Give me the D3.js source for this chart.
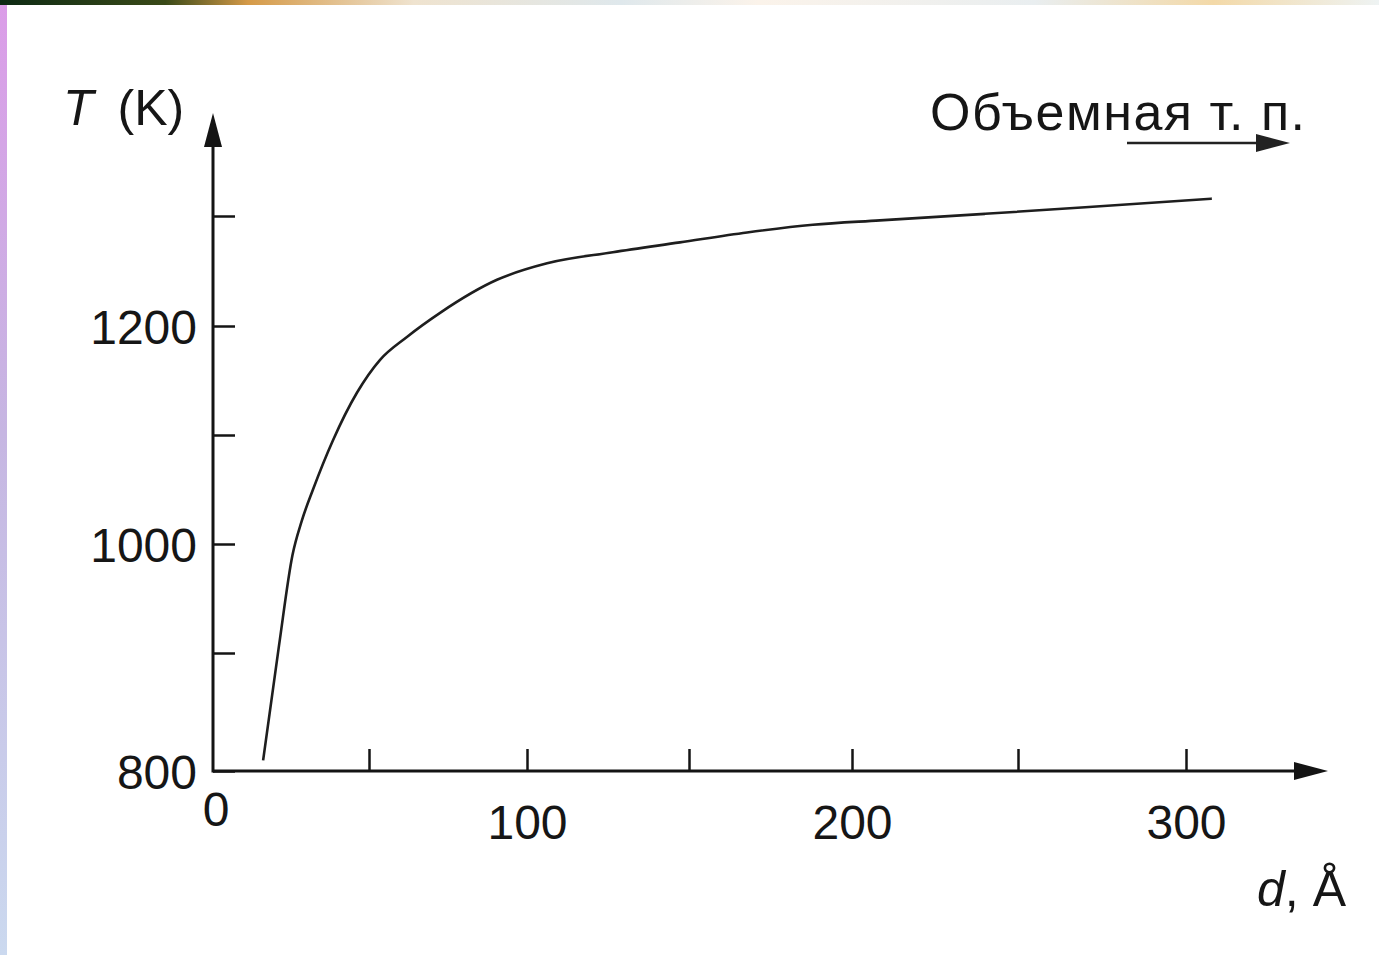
<!DOCTYPE html>
<html>
<head>
<meta charset="utf-8">
<script src="https://cdn.jsdelivr.net/npm/d3@7"></script>
<style>
  html, body { margin: 0; padding: 0; background: #fff; }
  svg text { font-family: "Liberation Sans", Arial, sans-serif; fill: #161616; }
</style>
</head>
<body>
<script>
// ---------------------- DATA ----------------------
// film thickness d (Å) and melting temperature T (K)
const dValues = [15.4, 20.6, 25.0, 28.0, 31.7, 38.2, 46.1, 53.5, 62.0, 72.5, 90.5,
                 106.2, 126.5, 147.2, 167.8, 188, 208.4, 240, 270, 308];
const tValues = [809, 907, 990, 1021, 1050, 1095, 1139, 1169, 1190, 1212, 1242,
                 1257, 1267, 1276, 1285, 1292, 1296, 1302, 1308, 1316];

const xTicks = [50, 100, 150, 200, 250, 300];
const xLabels = [100, 200, 300];
const yTicks = [800, 900, 1000, 1100, 1200, 1300];
const yLabels = [800, 1000, 1200];

const bulkLabel = "Объемная т. п.";

// ---------------------- SETUP ----------------------
const width = 1379, height = 955;
const ink = "#141414";
const labelSize = "48px";

const svg = d3.select("body").append("svg")
    .attr("width", width)
    .attr("height", height);

// scanned page edges (coloured strips on top and left)
const defs = svg.append("defs");
const topGrad = defs.append("linearGradient").attr("id", "topStrip");
[["0%", "#0d2a14"], ["12%", "#3a4a18"], ["18%", "#d59a48"], ["30%", "#efe3cf"],
 ["45%", "#dfe8ec"], ["55%", "#fbf3ea"], ["75%", "#e9eef0"], ["88%", "#f3d9a8"], ["100%", "#eef3f3"]]
    .forEach(([o, c]) => topGrad.append("stop").attr("offset", o).attr("stop-color", c));
const leftGrad = defs.append("linearGradient").attr("id", "leftStrip")
    .attr("x1", 0).attr("y1", 0).attr("x2", 0).attr("y2", 1);
[["0%", "#db9de8"], ["45%", "#c6b6e2"], ["100%", "#cbd9ef"]]
    .forEach(([o, c]) => leftGrad.append("stop").attr("offset", o).attr("stop-color", c));

svg.append("rect").attr("x", 0).attr("y", 0).attr("width", width).attr("height", 5)
    .attr("fill", "url(#topStrip)");
svg.append("rect").attr("x", 0).attr("y", 5).attr("width", 7).attr("height", height - 5)
    .attr("fill", "url(#leftStrip)");

// scales (polylinear to follow the slightly uneven scanned axes)
const dMax = 344, tMax = 1395;
const x = d3.scaleLinear()
    .domain([0, 50, 100, 150, 200, 250, 300, dMax])
    .range([216, 369, 527, 689, 852, 1018, 1186, 1328]);
const y = d3.scaleLinear()
    .domain([800, 900, 1000, 1100, 1200, 1300, tMax])
    .range([771, 653, 544, 435, 326, 216, 113]);

// ---------------------- AXES ----------------------
const xAxis = d3.axisBottom(x)
    .tickValues(xTicks)
    .tickSize(-22)
    .tickPadding(34)
    .tickFormat(d => xLabels.includes(d) ? d : "");

const gx = svg.append("g")
    .attr("transform", `translate(0,${y(800)})`)
    .call(xAxis);

const yAxis = d3.axisLeft(y)
    .tickValues(yTicks)
    .tickSize(-22)
    .tickPadding(16)
    .tickFormat(d => yLabels.includes(d) ? d : "");

const gy = svg.append("g")
    .attr("transform", `translate(${x(0) - 3},0)`)
    .call(yAxis);

[gx, gy].forEach(g => {
    g.select(".domain").remove();
    g.selectAll(".tick line").attr("stroke", ink).attr("stroke-width", 2.5);
    g.selectAll(".tick text")
        .style("font-size", labelSize)
        .style("font-family", "'Liberation Sans', Arial, sans-serif")
        .attr("fill", ink);
});
gy.selectAll(".tick text").attr("dy", "0.36em");

// axis lines with arrow heads
const x0 = x(0) - 3, y0 = y(800);
svg.append("line")
    .attr("x1", x0).attr("y1", y0).attr("x2", x(dMax) - 20).attr("y2", y0)
    .attr("stroke", ink).attr("stroke-width", 3);
svg.append("line")
    .attr("x1", x0).attr("y1", y0 + 1.5).attr("x2", x0).attr("y2", y(tMax) + 20)
    .attr("stroke", ink).attr("stroke-width", 3);

svg.append("path")
    .attr("d", `M${x(dMax)},${y0} L${x(dMax) - 34},${y0 - 9} L${x(dMax) - 34},${y0 + 9} Z`)
    .attr("fill", ink);
svg.append("path")
    .attr("d", `M${x0},${y(tMax)} L${x0 - 9},${y(tMax) + 34} L${x0 + 9},${y(tMax) + 34} Z`)
    .attr("fill", ink);

// origin label
svg.append("text")
    .attr("x", x(0)).attr("y", 826)
    .attr("text-anchor", "middle")
    .style("font-size", labelSize)
    .text("0");

// axis titles
const yTitle = svg.append("text")
    .attr("x", 63).attr("y", 125)
    .style("font-size", "50px");
yTitle.append("tspan").style("font-style", "italic").text("T");
yTitle.append("tspan").attr("dx", 24).text("(K)");

const xTitle = svg.append("text")
    .attr("x", 1346).attr("y", 906)
    .attr("text-anchor", "end")
    .style("font-size", "50px");
xTitle.append("tspan").style("font-style", "italic").text("d");
xTitle.append("tspan").text(", Å");

// ---------------------- CURVE ----------------------
const points = dValues.map((d, i) => [d, tValues[i]]);

const line = d3.line()
    .x(p => x(p[0]))
    .y(p => y(p[1]))
    .curve(d3.curveMonotoneX);

svg.append("path")
    .datum(points)
    .attr("d", line)
    .attr("fill", "none")
    .attr("stroke", "#1e1e1e")
    .attr("stroke-width", 2.6);

// ---------------------- BULK ANNOTATION ----------------------
svg.append("text")
    .attr("x", 930).attr("y", 130)
    .style("font-size", "52px")
    .attr("textLength", 375)
    .attr("lengthAdjust", "spacing")
    .attr("fill", "#2a2a2a")
    .text(bulkLabel);

svg.append("line")
    .attr("x1", 1127).attr("y1", 143).attr("x2", 1262).attr("y2", 143)
    .attr("stroke", "#222").attr("stroke-width", 2.5);
svg.append("path")
    .attr("d", "M1290,143 L1256,134 L1256,152 Z")
    .attr("fill", "#222");
</script>
</body>
</html>
